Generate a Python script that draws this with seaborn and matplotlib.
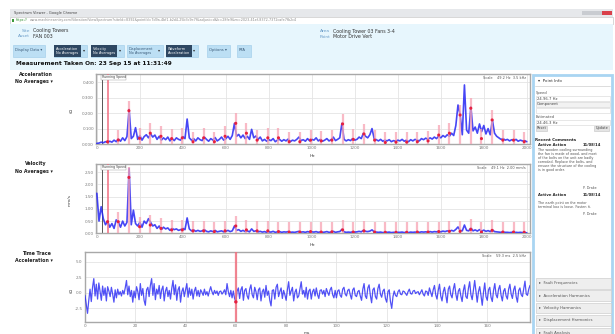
import numpy as np
import pandas as pd
import seaborn as sns
import matplotlib.pyplot as plt
from matplotlib.patches import Rectangle

# ---- data ----
freq_step = 10  # Hz between spectrum points

accel_g = [0.004, 0.006, 0.012, 0.008, 0.015, 0.010, 0.018, 0.012, 0.025, 0.015,
           0.032, 0.018, 0.040, 0.022, 0.048, 0.225, 0.035, 0.050, 0.106, 0.030,
           0.055, 0.025, 0.048, 0.060, 0.040, 0.065, 0.045, 0.058, 0.030, 0.050,
           0.025, 0.040, 0.028, 0.045, 0.020, 0.035, 0.022, 0.040, 0.030, 0.025,
           0.048, 0.035, 0.162, 0.040, 0.025, 0.035, 0.020, 0.040, 0.028, 0.022,
           0.045, 0.030, 0.018, 0.035, 0.025, 0.042, 0.020, 0.030, 0.045, 0.025,
           0.035, 0.050, 0.030, 0.055, 0.134, 0.050, 0.062, 0.040, 0.058, 0.035,
           0.050, 0.030, 0.095, 0.040, 0.052, 0.030, 0.045, 0.020, 0.030, 0.018,
           0.028, 0.022, 0.035, 0.015, 0.025, 0.030, 0.018, 0.028, 0.020, 0.032,
           0.015, 0.025, 0.020, 0.030, 0.045, 0.022, 0.028, 0.018, 0.035, 0.020,
           0.030, 0.025, 0.040, 0.020, 0.030, 0.018, 0.025, 0.035, 0.020, 0.028,
           0.045, 0.022, 0.030, 0.040, 0.134, 0.030, 0.020, 0.028, 0.022, 0.035,
           0.025, 0.030, 0.045, 0.035, 0.070, 0.050, 0.040, 0.060, 0.100, 0.035,
           0.028, 0.020, 0.030, 0.018, 0.025, 0.020, 0.028, 0.015, 0.022, 0.018,
           0.025, 0.020, 0.030, 0.018, 0.025, 0.015, 0.028, 0.020, 0.030, 0.025,
           0.020, 0.035, 0.028, 0.038, 0.030, 0.040, 0.032, 0.045, 0.035, 0.050,
           0.040, 0.055, 0.045, 0.060, 0.050, 0.070, 0.055, 0.120, 0.253, 0.190,
           0.060, 0.383, 0.090, 0.070, 0.240, 0.085, 0.110, 0.070, 0.130, 0.080,
           0.120, 0.065, 0.100, 0.060, 0.156, 0.070, 0.050, 0.040, 0.030, 0.035,
           0.025, 0.030, 0.020, 0.028, 0.022, 0.030, 0.018, 0.025, 0.020, 0.022,
           0.015]

velocity_mm_s = [1.64, 0.50, 1.09, 0.60, 0.35, 0.50, 0.25, 0.40, 0.20, 0.55,
                 0.45, 0.25, 0.50, 0.30, 0.45, 2.66, 0.35, 0.95, 0.40, 0.30,
                 0.45, 0.25, 0.50, 0.40, 0.60, 0.45, 0.30, 0.35, 0.20, 0.30,
                 0.15, 0.25, 0.18, 0.22, 0.12, 0.20, 0.15, 0.18, 0.12, 0.15,
                 0.20, 0.15, 0.63, 0.18, 0.10, 0.14, 0.08, 0.12, 0.08, 0.10,
                 0.15, 0.08, 0.06, 0.10, 0.07, 0.12, 0.06, 0.08, 0.10, 0.06,
                 0.08, 0.12, 0.07, 0.10, 0.30, 0.12, 0.15, 0.08, 0.12, 0.07,
                 0.10, 0.06, 0.18, 0.08, 0.10, 0.06, 0.08, 0.05, 0.07, 0.04,
                 0.06, 0.05, 0.08, 0.04, 0.06, 0.07, 0.04, 0.06, 0.05, 0.07,
                 0.04, 0.05, 0.04, 0.06, 0.08, 0.05, 0.06, 0.04, 0.07, 0.05,
                 0.06, 0.05, 0.07, 0.04, 0.06, 0.04, 0.05, 0.07, 0.04, 0.05,
                 0.08, 0.04, 0.06, 0.07, 0.16, 0.06, 0.04, 0.05, 0.04, 0.06,
                 0.05, 0.06, 0.08, 0.06, 0.12, 0.08, 0.07, 0.09, 0.14, 0.06,
                 0.05, 0.04, 0.05, 0.03, 0.04, 0.04, 0.05, 0.03, 0.04, 0.03,
                 0.04, 0.04, 0.05, 0.03, 0.04, 0.03, 0.05, 0.04, 0.05, 0.04,
                 0.04, 0.06, 0.05, 0.06, 0.05, 0.07, 0.05, 0.07, 0.06, 0.08,
                 0.06, 0.09, 0.07, 0.10, 0.08, 0.12, 0.09, 0.16, 0.26, 0.12,
                 0.10, 0.34, 0.12, 0.10, 0.22, 0.10, 0.14, 0.09, 0.15, 0.09,
                 0.13, 0.08, 0.11, 0.07, 0.14, 0.07, 0.06, 0.05, 0.04, 0.05,
                 0.04, 0.04, 0.03, 0.04, 0.03, 0.04, 0.03, 0.04, 0.03, 0.03,
                 0.02]

# harmonic markers (running speed multiples)
run_speed = 49.7
harmonic_order = list(range(1, 41))
accel_harm = [0.015, 0.026, 0.216, 0.037, 0.070, 0.050, 0.035, 0.040, 0.015, 0.040,
              0.015, 0.050, 0.134, 0.070, 0.025, 0.040, 0.040, 0.015, 0.015, 0.025,
              0.020, 0.025, 0.130, 0.030, 0.065, 0.025, 0.010, 0.012, 0.012, 0.015,
              0.020, 0.058, 0.070, 0.188, 0.232, 0.035, 0.156, 0.025, 0.025, 0.015]
vel_harm = [0.475, 0.475, 2.29, 0.27, 0.34, 0.20, 0.14, 0.14, 0.10, 0.10,
            0.07, 0.10, 0.30, 0.14, 0.10, 0.10, 0.07, 0.05, 0.05, 0.07,
            0.05, 0.06, 0.14, 0.05, 0.10, 0.05, 0.04, 0.04, 0.04, 0.05,
            0.05, 0.07, 0.08, 0.08, 0.16, 0.05, 0.12, 0.05, 0.05, 0.04]

# time waveform, 0.5 ms steps (one row = 5 ms)
time_step = 0.5
wave_g = [-0.4, -1.8, -3.3, -1.2, 0.6, -1.4, 0.9, 2.3, -0.5, 1.4,
          -1.0, 1.6, 0.2, -1.2, 1.1, -0.4, 0.8, -1.3, 1.0, 0.3,
          -0.6, 0.9, -0.2, -1.5, 0.5, -0.8, 0.6, -0.3, 0.2, -0.5,
          0.4, -0.2, 0.8, 2.0, -0.3, 1.1, -0.6, 0.4, -1.5, 0.3,
          -0.8, 1.0, 0.2, -1.1, 1.5, -0.4, 0.7, -1.2, -2.0, 0.5,
          0.9, -0.6, 1.2, 2.3, -0.4, 1.5, -1.1, 0.6, -0.2, 1.2,
          -0.9, 0.5, 1.1, -1.3, 0.3, 0.9, -0.6, 0.4, -1.0, 0.7,
          2.0, -0.3, 1.3, -1.2, 0.5, 1.0, -1.5, 0.2, 0.8, -0.6,
          0.5, 1.5, -0.7, 0.8, -0.4, 0.6, -1.0, 0.3, 0.9, -0.5,
          0.4, -0.6, 0.5, 0.1, -0.4, 0.6, -0.3, 0.2, -0.5, 0.3,
          1.0, 0.2, -0.3, 0.4, -0.1, 0.3, -0.4, 0.2, 0.3, -0.2,
          0.1, 0.5, -0.3, 1.5, 0.2, -0.6, 0.4, -0.8, 0.3, -0.9,
          -1.45, 0.3, 0.8, -0.9, 0.5, 1.0, -1.2, 0.4, 0.7, -0.5,
          -1.0, 0.6, 1.3, -0.3, -0.8, 0.9, 0.2, -1.1, 0.5, 0.8,
          -1.3, 0.2, 0.6, -0.7, 1.2, -0.4, 0.3, -1.2, -2.1, 0.4,
          0.5, -1.0, 0.9, 1.4, -0.6, 0.2, 0.8, -0.9, 0.4, -0.3,
          -1.2, 0.5, 1.8, -0.4, 0.3, 0.9, -1.3, 0.1, 0.6, -0.8,
          -0.5, 0.7, 1.8, -0.2, 0.4, -0.7, 0.9, -1.0, 0.3, 0.6,
          -1.0, 0.2, 0.6, -0.5, 0.8, -0.3, -0.9, 0.4, 0.5, -0.2,
          0.4, -0.6, 0.7, 0.1, -0.4, 0.5, 0.9, -0.3, -0.8, 0.4,
          -0.8, 0.3, 0.5, -0.4, -0.7, 0.6, 0.9, -0.2, -0.5, 0.4,
          0.6, -0.3, -1.0, 0.5, 0.8, -0.4, -0.6, 0.2, 0.4, -0.5,
          -1.2, 0.6, 1.5, -0.5, -0.9, 0.8, 1.3, -0.4, -1.6, 0.5,
          0.8, -0.6, -1.0, 0.7, 1.4, -0.2, -0.7, 0.3, 0.6, -0.9,
          -1.5, 0.2, 0.5, -1.4, -2.5, -0.6, 0.3, -0.4, -0.6, 0.2,
          0.5, -0.2, -0.3, 0.3, 0.2, -0.1, -0.4, 0.2, 0.6, -0.1,
          -0.2, 0.3, 0.4, -0.1, 0.1, 0.2, -0.3, 0.1, 0.5, -0.2,
          -0.5, 0.3, 0.2, -0.4, 0.8, 0.1, -0.6, 0.5, 1.2, -0.3,
          -1.0, 0.4, 1.4, -0.5, -1.3, 0.2, 0.9, -0.4, -1.6, 0.6,
          1.1, -0.3, -0.8, 0.6, 1.5, -0.2, -1.2, 0.3, 0.7, -0.5,
          -1.4, 0.4, 1.3, -0.6, -0.9, 0.7, 1.8, -0.3, -1.1, 0.5,
          2.0, 0.3, -1.5, 0.2, 1.0, -0.4, -2.0, 0.1, 1.6, -0.6,
          -1.2, 0.5, 0.9, -0.7, -1.4, 0.4, 1.5, -0.3, -0.8, 0.6,
          1.2, -0.4, -1.3, 0.3, 0.7, -0.5, -1.0, 0.6, 1.4, -0.2,
          -0.9, 0.5, 1.1, -0.6, -1.5, 0.4, 0.8, -0.3, -0.6, 0.7,
          1.9, -0.2, -0.4, 0.6, 1.2]
cursor_ms = 60
cursor_g = -1.45

spec_xticks = [0, 200, 400, 600, 800, 1000, 1200, 1400, 1600, 1800, 2000]
acc_yticks = [0.0, 0.1, 0.2, 0.3, 0.4]
acc_ylabels = ['0.000', '0.100', '0.200', '0.300', '0.400']
vel_yticks = [0.0, 0.5, 1.0, 1.5, 2.0, 2.5]
vel_ylabels = ['0.00', '0.50', '1.00', '1.50', '2.00', '2.50']
time_xticks = [0, 20, 40, 60, 80, 100, 120, 140, 160]
time_yticks = [-2.5, 0.0, 2.5, 5.0]
time_ylabels = ['-2.5', '0.0', '2.5', '5.0']

section_names = ['Fault Frequencies', 'Acceleration Harmonics', 'Velocity Harmonics',
                 'Displacement Harmonics', 'Fault Analysis']
comment_1 = ['The wooden cooling surrounding', 'the fan is made of wood, and most',
             'of the bolts on the unit are badly', 'corroded. Replace the bolts, and',
             'ensure the structure of the cooling', 'is in good order.']
comment_2 = ['The earth point on the motor', 'terminal box is loose. Fasten it.']

# ---- figure ----
sns.set_style('white')
plt.rcParams['font.family'] = ['DejaVu Sans']
W, H = 615, 334
fig = plt.figure(figsize=(W / 100, H / 100), dpi=100)

bg = fig.add_axes([0, 0, 1, 1], zorder=0)
bg.set_xlim(0, W)
bg.set_ylim(H, 0)
bg.axis('off')

def txt(x, y, s, size=3.4, **kw):
    bg.text(x, y, s, fontsize=size, va='center', **kw)

# browser chrome
bg.add_patch(Rectangle((10, 9), 603, 8, fc='#e6e8eb', ec='none'))
txt(14, 13, 'Spectrum Viewer - Google Chrome', 2.6, color='#444444')
bg.add_patch(Rectangle((582, 10.5), 20, 4.5, fc='#c9ccd1', ec='none'))
bg.add_patch(Rectangle((602, 10.5), 10, 4.5, fc='#d9404a', ec='none'))
bg.add_patch(Rectangle((10, 17), 603, 6.5, fc='white', ec='#c8c8c8', lw=0.5))
bg.add_patch(Rectangle((11.5, 18.5), 2.5, 3.5, fc='#3c9a3c', ec='none'))
txt(15.5, 20.3, 'https://', 2.4, color='#2f8f2f')
txt(30, 20.3, 'www.machinesentry.com/Vibration/ViewSpectrum?siteId=8392&pointId=7d9a-4bf1-'
    'b2d4-25b3c9e7f&adjust=d&b=28fe9&m=2023-41ef-8372-7372cafe7fb2c4', 2.4, color='#8a8a8a')

# light blue header
bg.add_patch(Rectangle((10, 24), 603, 46, fc='#e7f6fd', ec='none'))
txt(30, 30.5, 'Site', 3.2, color='#6a9cc8', ha='right')
txt(33, 30.5, 'Cooling Towers', 3.4, color='#333333')
txt(30, 36, 'Asset', 3.2, color='#6a9cc8', ha='right')
txt(33, 36, 'FAN 003', 3.4, color='#333333')
txt(330, 31, 'Area', 3.2, color='#6a9cc8', ha='right')
txt(333, 31, 'Cooling Tower 03 Fans 3-4', 3.4, color='#333333')
txt(330, 36.5, 'Point', 3.2, color='#6a9cc8', ha='right')
txt(333, 36.5, 'Motor Drive Vert', 3.4, color='#333333')

light_btn, dark_btn = '#bcdff4', '#2e4762'
buttons = [(12.7, 45, None, 'Display Data \u25be'),
           (54, 87, 81, 'Acceleration\nNo Averages'),
           (90.7, 124, 117.3, 'Velocity\nNo Averages'),
           (126.7, 162.7, None, 'Displacement\nNo Averages'),
           (165.7, 198.3, 191.7, 'Waveform\nAcceleration'),
           (207, 230, None, 'Options \u25be'),
           (237, 250.7, None, 'RFA')]
for x0, x1, dark_end, label in buttons:
    bg.add_patch(Rectangle((x0, 45), x1 - x0, 12, fc=light_btn, ec='#9ccbe8', lw=0.4))
    if dark_end is not None:
        bg.add_patch(Rectangle((x0, 45), dark_end - x0, 12, fc=dark_btn, ec='none'))
        txt(x0 + 2, 51, label, 2.5, color='white', linespacing=1.1)
        txt(dark_end + 1.5, 50, '\u25be', 3, color='#333333')
    elif '\n' in label:
        txt(x0 + 2, 51, label, 2.5, color='#3a5a78', linespacing=1.1)
        txt(x1 - 4.5, 50, '\u25be', 3, color='#333333')
    else:
        txt(x0 + 2, 50, label, 2.7, color='#3a5a78')

txt(16, 63.5, 'Measurement Taken On: 23 Sep 15 at 11:31:49', 4.2, fontweight='bold',
    color='#111111')

# chart titles on the left
for yy, t1, t2 in [(75, 'Acceleration', 'No Averages \u25be'),
                   (164, 'Velocity', 'No Averages \u25be'),
                   (253.5, 'Time Trace', 'Acceleration \u25be')]:
    txt(36, yy, t1, 3.4, fontweight='bold', ha='center', color='#222222')
    txt(34, yy + 7, t2, 3.4, fontweight='bold', ha='center', color='#222222')

txt(70, 112, 'g', 3.4, ha='center', color='#444444')
bg.text(70, 200, 'mm/s', fontsize=3.2, ha='center', va='center', rotation=90, color='#444444')
txt(70, 292, 'g', 3.4, ha='center', color='#444444')
txt(312, 156, 'Hz', 3.2, ha='center', color='#444444')
txt(312, 245, 'Hz', 3.2, ha='center', color='#444444')
txt(307, 333.5, 'ms', 3.2, ha='center', color='#444444')

# right info panel
bg.add_patch(Rectangle((533, 75), 79, 262, fc='white', ec='#a9d5f2', lw=2))
txt(538, 80.5, '\u25be  Point Info', 3.0, color='#333333')
bg.plot([535, 610], [85.5, 85.5], color='#cfcfcf', lw=0.5)
txt(536, 93.3, 'Speed', 2.7, color='#555555')
bg.add_patch(Rectangle((535.5, 96), 74, 5, fc='white', ec='#d4d4d4', lw=0.4))
txt(537, 98.5, '24.96.7 Hz', 2.7, color='#444444')
bg.add_patch(Rectangle((535.5, 102), 74, 5, fc='#f2f2f2', ec='#d4d4d4', lw=0.4))
txt(537, 104.5, 'Component', 2.7, color='#444444')
bg.add_patch(Rectangle((535.5, 108), 74, 5, fc='white', ec='#d4d4d4', lw=0.4))
txt(536, 116.7, 'Estimated', 2.7, color='#555555')
bg.add_patch(Rectangle((535.5, 120), 74, 5, fc='white', ec='#d4d4d4', lw=0.4))
txt(537, 122.5, '24.46.3 Hz', 2.7, color='#444444')
bg.add_patch(Rectangle((535.5, 126), 11, 4.5, fc='#e4e4e4', ec='#c4c4c4', lw=0.4))
txt(537, 128.3, 'Reset', 2.5, color='#444444')
bg.add_patch(Rectangle((594, 126), 15, 4.5, fc='#e4e4e4', ec='#c4c4c4', lw=0.4))
txt(595.5, 128.3, 'Update', 2.5, color='#444444')
txt(535, 140, 'Recent Comments', 2.9, fontweight='bold', color='#222222')
txt(538, 145, 'Active Action', 2.7, fontweight='bold', color='#222222')
txt(583, 145, '11/08/14', 2.7, fontweight='bold', color='#222222')
for i, line in enumerate(comment_1):
    txt(538, 149.5 + i * 4.1, line, 2.4, color='#555555')
txt(597, 188.3, 'P. Drake', 2.4, ha='right', color='#555555')
txt(538, 195, 'Active Action', 2.7, fontweight='bold', color='#222222')
txt(583, 195, '11/08/14', 2.7, fontweight='bold', color='#222222')
for i, line in enumerate(comment_2):
    txt(538, 203.3 + i * 4.1, line, 2.4, color='#555555')
txt(597, 214, 'P. Drake', 2.4, ha='right', color='#555555')
for i, name in enumerate(section_names):
    yc = 283.3 + i * 12.35
    bg.add_patch(Rectangle((535.5, yc - 5.2), 75, 10.4, fc='#eeeeee', ec='#cfcfcf', lw=0.5))
    txt(539, yc, '\u25b8  ' + name, 2.8, color='#555555')

# ---- plot areas ----
def px_axes(left, top, right, bottom):
    return fig.add_axes([left / W, 1 - bottom / H, (right - left) / W, (bottom - top) / H],
                        zorder=2)

def style(ax, xticks, yticks, ylabels, xlim, ylim):
    ax.set_xlim(xlim)
    ax.set_ylim(ylim)
    ax.set_xticks(xticks)
    ax.set_yticks(yticks)
    ax.set_yticklabels(ylabels)
    ax.grid(True, color='#e4e4e4', lw=0.6)
    ax.tick_params(length=0, labelsize=3, labelcolor='#7a7a7a', pad=1.5)
    for s in ax.spines.values():
        s.set_color('#a8a8a8')
        s.set_linewidth(1.0)
    ax.set_xlabel('')
    ax.set_ylabel('')

blue = '#2626f4'
harm_freq = np.array(harmonic_order) * run_speed

def spectrum(ax, values, harm, bar_extra, scale_text):
    df = pd.DataFrame({'Hz': np.arange(len(values)) * freq_step, 'amp': values})
    sns.lineplot(data=df, x='Hz', y='amp', ax=ax, color=blue, lw=1.2, alpha=0.85, zorder=3)
    ax.axvline(22, color='#555555', lw=0.7, zorder=2)
    ax.axvline(run_speed, color='#f26d80', lw=1.3, alpha=0.85, zorder=3)
    ax.vlines(harm_freq[1:], 0, np.array(harm[1:]) + bar_extra, color='#f7a3b4', lw=1.6,
              alpha=0.75, zorder=4)
    sns.scatterplot(x=harm_freq, y=harm, ax=ax, color='#e5203f', s=5, edgecolor='none',
                    zorder=5, legend=False)
    ax.text(0.013, 0.985, 'Running Speed', transform=ax.transAxes, fontsize=2.3,
            va='top', color='#444444',
            bbox=dict(boxstyle='square,pad=0.15', fc='white', ec='#999999', lw=0.3))
    ax.text(0.99, 0.975, scale_text, transform=ax.transAxes, fontsize=2.5, va='top',
            ha='right', color='#555555')

ax1 = px_axes(96, 74, 530, 144)
spectrum(ax1, accel_g, accel_harm, 0.065, 'Scale    49.2 Hz  3.5 kHz')
style(ax1, spec_xticks, acc_yticks, acc_ylabels, (-4, 2015), (0, 0.454))

ax2 = px_axes(96, 164, 530, 233.3)
spectrum(ax2, velocity_mm_s, vel_harm, 0.41, 'Scale    49.1 Hz  2.00 mm/s')
style(ax2, spec_xticks, vel_yticks, vel_ylabels, (-4, 2015), (0, 2.84))

ax3 = px_axes(84.5, 252, 530, 322)
tdf = pd.DataFrame({'ms': np.arange(len(wave_g)) * time_step, 'g': wave_g})
sns.lineplot(data=tdf, x='ms', y='g', ax=ax3, color=blue, lw=0.9, alpha=0.8, zorder=3)
ax3.axvline(cursor_ms, color='#f0707f', lw=1.6, alpha=0.85, zorder=4)
sns.scatterplot(x=[cursor_ms], y=[cursor_g], ax=ax3, color='#e5203f', s=6,
                edgecolor='none', zorder=5, legend=False)
ax3.text(0.99, 0.975, 'Scale    59.3 ms  2.5 kHz', transform=ax3.transAxes, fontsize=2.5,
         va='top', ha='right', color='#555555')
style(ax3, time_xticks, time_yticks, time_ylabels, (-0.2, 177), (-4.7, 6.6))

fig.savefig('out.png', dpi=100)
